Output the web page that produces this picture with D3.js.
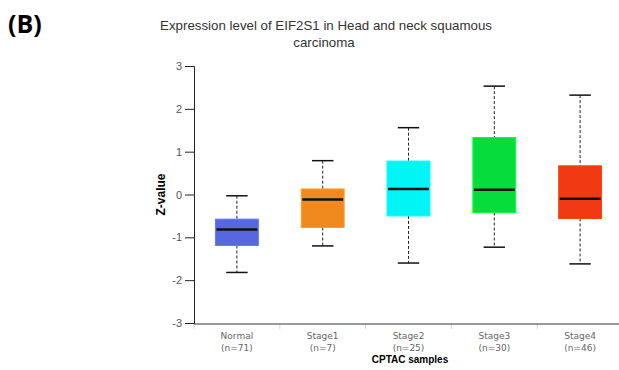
<!DOCTYPE html>
<html>
<head>
<meta charset="utf-8">
<script src="https://cdn.jsdelivr.net/npm/d3@7"></script>
<style>
  body { margin: 0; background: #fff; }
  svg { display: block; font-family: "Liberation Sans", Arial, sans-serif; }
</style>
</head>
<body>
<div id="chart"></div>
<script>
// values
const groups = ['Normal', 'Stage1', 'Stage2', 'Stage3', 'Stage4'];
const counts = [71, 7, 25, 30, 46];
const whiskerLow = [-1.82, -1.2, -1.6, -1.23, -1.62];
const q1 = [-1.19, -0.77, -0.5, -0.42, -0.56];
const median = [-0.815, -0.115, 0.13, 0.11, -0.1];
const q3 = [-0.575, 0.13, 0.78, 1.33, 0.67];
const whiskerHigh = [-0.03, 0.79, 1.56, 2.53, 2.32];
const colors = ['#5667e0', '#f08a1f', '#00f6f5', '#06dc3c', '#f13a13'];
const yTicks = [-3, -2, -1, 0, 1, 2, 3];

const width = 619, height = 370;
const margin = { top: 66, right: -4, bottom: 47, left: 194 };

const svg = d3.select('#chart').append('svg')
  .attr('width', width)
  .attr('height', height);

const x = d3.scaleBand()
  .domain(groups)
  .range([margin.left, width - margin.right]);
const y = d3.scaleLinear()
  .domain([-3, 3])
  .range([height - margin.bottom, margin.top]);

const boxes = groups.map((g, i) => ({
  name: g, n: counts[i], lo: whiskerLow[i], q1: q1[i], med: median[i],
  q3: q3[i], hi: whiskerHigh[i], color: colors[i]
}));

// panel label
svg.append('text')
  .attr('x', 8).attr('y', 33)
  .style('font-size', '25px').style('font-weight', 'bold')
  .style('font-family', '"Open Sans", sans-serif')
  .text('(B)');

// title
const title = svg.append('text')
  .attr('text-anchor', 'middle')
  .style('font-size', '13.3px')
  .attr('fill', '#333');
title.append('tspan').attr('x', 326).attr('y', 30)
  .text('Expression level of EIF2S1 in Head and neck squamous');
title.append('tspan').attr('x', 324).attr('y', 47)
  .text('carcinoma');

// x axis
const xAxisY = y(-3);
svg.append('g')
  .selectAll('line.xtick')
  .data(groups.concat(['end']))
  .join('line')
  .attr('class', 'xtick')
  .attr('x1', (d, i) => margin.left + i * x.bandwidth())
  .attr('x2', (d, i) => margin.left + i * x.bandwidth())
  .attr('y1', xAxisY).attr('y2', xAxisY + 6)
  .attr('stroke', '#ccd6eb');
svg.append('line')
  .attr('x1', margin.left).attr('x2', width)
  .attr('y1', xAxisY + 1).attr('y2', xAxisY + 1)
  .attr('stroke', '#777').attr('stroke-width', 1.5);

const xl = svg.append('g').selectAll('text')
  .data(boxes)
  .join('text')
  .attr('text-anchor', 'middle')
  .attr('fill', '#666')
  .style('font-size', '9px')
  .style('font-family', '"DejaVu Sans", sans-serif');
xl.append('tspan')
  .attr('x', d => x(d.name) + x.bandwidth() / 2)
  .attr('y', xAxisY + 16)
  .text(d => d.name);
xl.append('tspan')
  .attr('x', d => x(d.name) + x.bandwidth() / 2)
  .attr('y', xAxisY + 28)
  .text(d => `(n=${d.n})`);

svg.append('text')
  .attr('x', 410).attr('y', height - 7)
  .attr('text-anchor', 'middle')
  .style('font-size', '10px').style('font-weight', 'bold')
  .text('CPTAC samples');

// y axis
const yAxis = svg.append('g')
  .attr('transform', `translate(${margin.left},0)`)
  .call(d3.axisLeft(y).tickValues(yTicks).tickSize(9).tickPadding(3).tickFormat(d => String(d)));
yAxis.select('.domain').attr('stroke', '#222');
yAxis.selectAll('.tick line').attr('stroke', '#222');
yAxis.selectAll('.tick text')
  .attr('fill', '#555')
  .style('font-size', '11px');

svg.append('text')
  .attr('transform', `translate(165,${y(0)}) rotate(-90)`)
  .attr('text-anchor', 'middle')
  .style('font-size', '12px').style('font-weight', 'bold')
  .text('Z-value');

// boxes
const bw = x.bandwidth() * 0.5;
const cw = x.bandwidth() * 0.25;
const g = svg.append('g').selectAll('g.box')
  .data(boxes)
  .join('g')
  .attr('class', 'box')
  .attr('transform', d => `translate(${x(d.name) + x.bandwidth() / 2},0)`);

g.append('line')
  .attr('y1', d => y(d.hi)).attr('y2', d => y(d.q3))
  .attr('stroke', '#222').attr('stroke-dasharray', '3,2');
g.append('line')
  .attr('y1', d => y(d.q1)).attr('y2', d => y(d.lo))
  .attr('stroke', '#222').attr('stroke-dasharray', '3,2');
g.append('line')
  .attr('x1', -cw / 2).attr('x2', cw / 2)
  .attr('y1', d => y(d.hi)).attr('y2', d => y(d.hi))
  .attr('stroke', '#111').attr('stroke-width', 1.5);
g.append('line')
  .attr('x1', -cw / 2).attr('x2', cw / 2)
  .attr('y1', d => y(d.lo)).attr('y2', d => y(d.lo))
  .attr('stroke', '#111').attr('stroke-width', 1.5);
g.append('rect')
  .attr('x', -bw / 2).attr('width', bw)
  .attr('y', d => y(d.q3))
  .attr('height', d => y(d.q1) - y(d.q3))
  .attr('fill', d => d.color)
  .attr('stroke', d => d3.color(d.color).brighter(0.4))
  .attr('stroke-width', 1);
g.append('line')
  .attr('x1', -bw / 2 + 1).attr('x2', bw / 2 - 1)
  .attr('y1', d => y(d.med)).attr('y2', d => y(d.med))
  .attr('stroke', '#111').attr('stroke-width', 2.5);
</script>
</body>
</html>
